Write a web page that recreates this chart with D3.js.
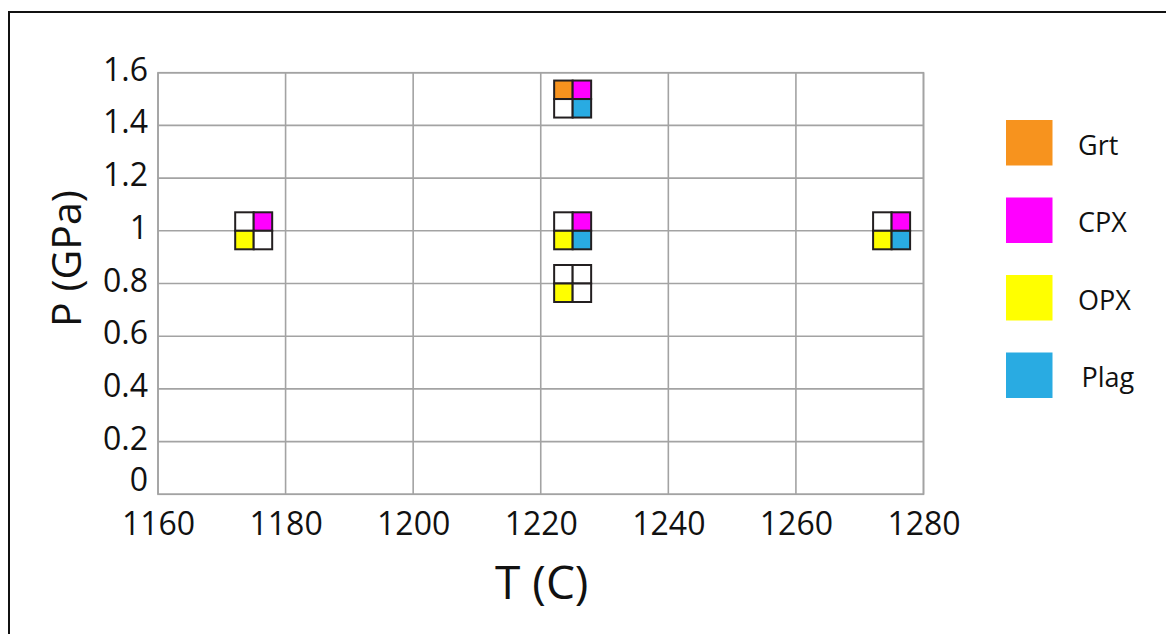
<!DOCTYPE html>
<html>
<head>
<meta charset="utf-8">
<script src="https://cdn.jsdelivr.net/npm/d3@7"></script>
<style>
  html, body { margin: 0; padding: 0; background: #fff; }
  svg { display: block; }
  text { font-family: "Open Sans", "Noto Sans", sans-serif; fill: #111; }
</style>
</head>
<body>
<svg id="chart" width="1166" height="634"></svg>
<script>
// Experimental run conditions
const temperatures = [1175, 1225, 1225, 1225, 1275];   // T (C)
const pressures    = [1.0, 1.5, 1.0, 0.8, 1.0];        // P (GPa)

// Phases found in each run (1 = present), in the same order as the runs
const minerals  = ["Grt", "CPX", "OPX", "Plag"];
const grtFound  = [0, 1, 0, 0, 0];
const cpxFound  = [1, 1, 1, 0, 1];
const opxFound  = [1, 0, 1, 1, 1];
const plagFound = [0, 1, 1, 0, 1];
const mineralColors = ["#F7931E", "#FF00FF", "#FFFF00", "#29ABE2"];

// Axis ticks
const xTicks = [1160, 1180, 1200, 1220, 1240, 1260, 1280];
const yTicks = [0, 0.2, 0.4, 0.6, 0.8, 1, 1.2, 1.4, 1.6];

const svg = d3.select("#chart");
const plot = { left: 158, right: 923.5, top: 72.7, bottom: 494.3 };

const x = d3.scaleLinear().domain([1160, 1280]).range([plot.left, plot.right]);
const y = d3.scaleLinear().domain([0, 1.6]).range([plot.bottom, plot.top]);

// Outer frame (left and top edges visible)
svg.append("path")
  .attr("d", `M9,640 L9,12 L1170,12`)
  .attr("fill", "none")
  .attr("stroke", "#111")
  .attr("stroke-width", 2);

// Grid
const grid = svg.append("g").attr("stroke", "#a3a3a3").attr("stroke-width", 1.6);
grid.selectAll("line.v").data(xTicks).join("line")
  .attr("x1", d => x(d)).attr("x2", d => x(d))
  .attr("y1", plot.top).attr("y2", plot.bottom);
grid.selectAll("line.h").data(yTicks).join("line")
  .attr("x1", plot.left).attr("x2", plot.right)
  .attr("y1", d => y(d)).attr("y2", d => y(d));
grid.append("rect")
  .attr("x", plot.left).attr("y", plot.top)
  .attr("width", plot.right - plot.left).attr("height", plot.bottom - plot.top)
  .attr("fill", "none");

// Axes built with d3 axis generators, restyled as plain labels
const xAxis = svg.append("g")
  .attr("transform", `translate(0,${plot.bottom})`)
  .call(d3.axisBottom(x).tickValues(xTicks).tickSize(0).tickPadding(0).tickFormat(d => String(d)));
xAxis.select(".domain").remove();
xAxis.selectAll("text")
  .attr("y", 41).attr("dy", null)
  .style("font-size", "32px")
  .style("font-family", "'Open Sans', sans-serif")
  .attr("fill", "#111");

const yAxis = svg.append("g")
  .attr("transform", `translate(${plot.left},0)`)
  .call(d3.axisLeft(y).tickValues(yTicks).tickSize(0).tickPadding(0).tickFormat(d => String(d)));
yAxis.select(".domain").remove();
yAxis.selectAll("text")
  .attr("x", -10).attr("dy", null)
  .attr("y", d => d === 0 ? -3.5 : 7.5)
  .style("font-size", "32px")
  .style("font-family", "'Open Sans', sans-serif")
  .attr("fill", "#111");

// Axis titles
svg.append("text")
  .attr("x", (plot.left + plot.right) / 2 + 1)
  .attr("y", 599)
  .attr("text-anchor", "middle")
  .style("font-size", "46px")
  .text("T (C)");

svg.append("text")
  .attr("transform", `translate(81,${(plot.top + plot.bottom) / 2 - 25}) rotate(-90)`)
  .attr("text-anchor", "middle")
  .style("font-size", "41px")
  .text("P (GPa)");

// Phase markers: 2x2 cells — Grt | CPX over OPX | Plag
const cell = 18.5;
const found = [grtFound, cpxFound, opxFound, plagFound];
const offsets = [[-1, -1], [0, -1], [-1, 0], [0, 0]];
const runs = temperatures.map((t, i) => ({ t, p: pressures[i], i }));

const markers = svg.append("g").selectAll("g").data(runs).join("g")
  .attr("transform", d => `translate(${x(d.t)},${y(d.p)})`);

markers.selectAll("rect")
  .data(d => minerals.map((m, k) => ({ k, on: found[k][d.i] })))
  .join("rect")
  .attr("x", d => offsets[d.k][0] * cell)
  .attr("y", d => offsets[d.k][1] * cell)
  .attr("width", cell).attr("height", cell)
  .attr("fill", d => d.on ? mineralColors[d.k] : "#fff")
  .attr("stroke", "#231F20")
  .attr("stroke-width", 2);

// Legend
const legendY = d3.scalePoint().domain(minerals).range([120, 352.5]);
const legend = svg.append("g").selectAll("g").data(minerals).join("g")
  .attr("transform", d => `translate(1006,${legendY(d)})`);
legend.append("rect")
  .attr("width", 46.5).attr("height", 45.5)
  .attr("fill", (d, k) => mineralColors[k]);
legend.append("text")
  .attr("x", (d, k) => d === "Plag" ? 75.5 : 72)
  .attr("y", 34.5)
  .style("font-size", "27px")
  .text(d => d);
</script>
</body>
</html>
